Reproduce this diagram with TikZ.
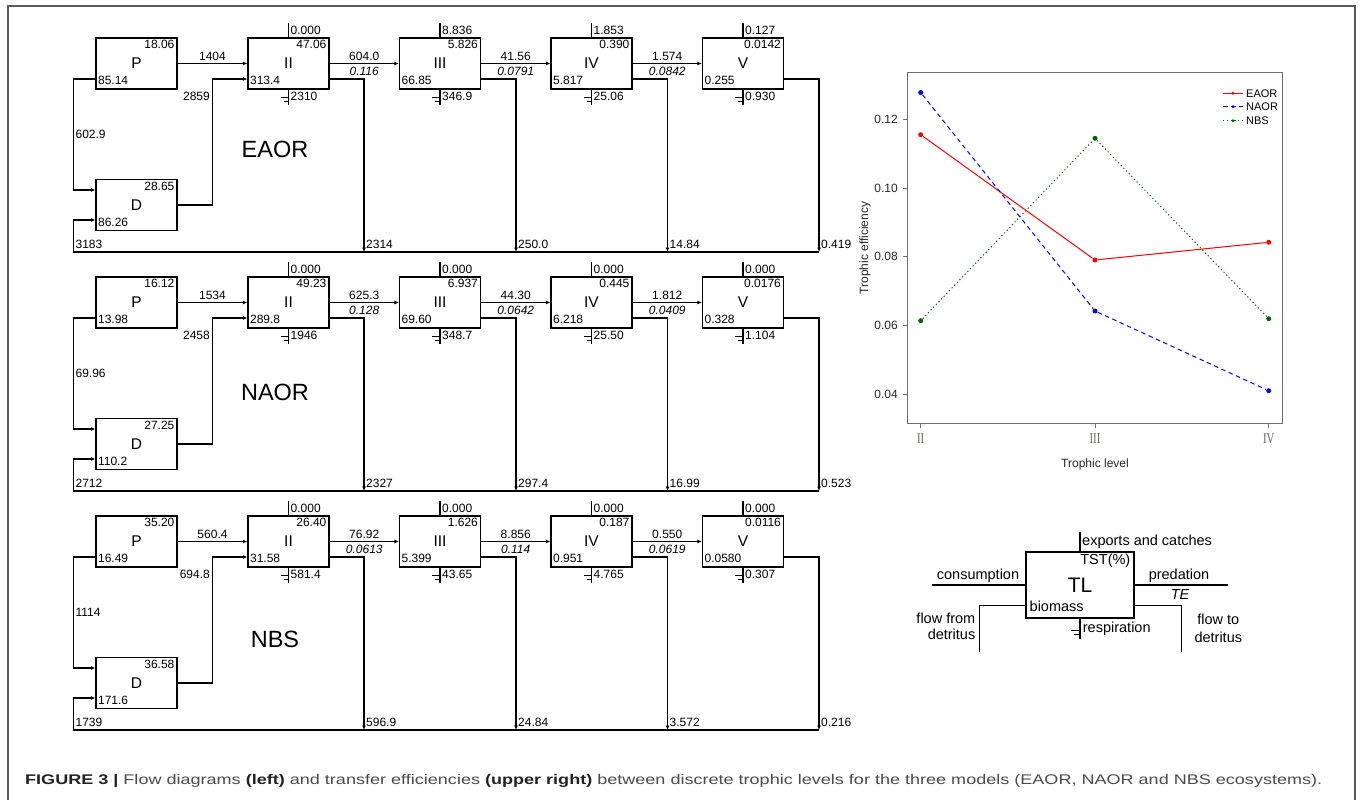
\documentclass[tikz,border=0pt]{standalone}
\usepackage{fontspec}
\setmainfont{Liberation Sans}
\newfontfamily\romanfont{Liberation Serif}
\usetikzlibrary{arrows.meta,calc}
\definecolor{framegray}{HTML}{5A5A5A}
\definecolor{plotgray}{HTML}{6E6E6E}
\definecolor{romgray}{HTML}{6A5E54}
\definecolor{capgray}{HTML}{4A4A4A}
\definecolor{capdark}{HTML}{222222}
\definecolor{nbsgreen}{HTML}{006400}

% source box (P, D): name, x, y, label, top-right, bottom-left
\newcommand\srcbox[6]{%
  \node[tlbox] (#1) at (#2,#3) {#4};
  \node[num,anchor=base east] (#1tr) at ($(#1.north east)+(-3,11.3)$) {#5};
  \node[num,anchor=base west] (#1bl) at ($(#1.south west)+(2.5,-4.7)$) {#6};
}
% trophic level box: name, x, y, label, export, top-right, bottom-left, respiration
\newcommand\tlev[8]{%
  \node[tlbox] (#1) at (#2,#3) {#4};
  \node[num,anchor=base east] (#1tr) at ($(#1.north east)+(-3,11.3)$) {#6};
  \node[num,anchor=base west] (#1bl) at ($(#1.south west)+(2.5,-4.7)$) {#7};
  \coordinate (#1top) at ($(#1.north)+(0,-14)$);
  \draw[link] (#1.north) -- (#1top);
  \node[num,anchor=base west] (#1ex) at ($(#1.north)+(2,-3)$) {#5};
  \coordinate (#1res) at ($(#1.south)+(0,15)$);
  \coordinate (#1ga) at ($(#1.south)+(-8,8)$);
  \coordinate (#1gb) at ($(#1.south)+(-5,11.5)$);
  \draw[link] (#1.south) -- (#1res);
  \draw[link] (#1ga) -- (#1ga -| #1res);
  \draw[link] (#1gb) -- (#1gb -| #1res);
  \node[num,anchor=base west] (#1rl) at ($(#1.south)+(2,11)$) {#8};
}
% predation flow: from, to, value, TE
\newcommand\pred[4]{%
  \coordinate (#1#2m) at ($(#1.east)!0.5!(#2.west)$);
  \draw[flow] (#1.east) -- (#2.west);
  \node[num,anchor=base] (#1#2v) at ($(#1#2m)+(0,-3.5)$) {#3};
  \node[tenum,anchor=base] (#1#2t) at ($(#1#2m)+(0,11.5)$) {#4};
}
% flow to detritus: from, drop x, bottom y, value, style
\newcommand\detr[5]{%
  \coordinate (#1out) at ($(#1.east)+(0,15.5)$);
  \coordinate (#1bot) at (#2,#3);
  \draw[#5,->] (#1out) -| (#1bot);
  \node[num,anchor=base west] (#1dl) at ($(#1bot)+(2,-3.7)$) {#4};
}
% source flows: prefix, P->II, P->D, D->II, detritus->D
\newcommand\srcflows[5]{%
  \coordinate (#1in) at ($(#12.west)+(0,15.5)$);
  \coordinate (#1mid) at ($(#1P.east)!0.5!(#12.west)$);
  \coordinate (#1kink) at (#1mid |- #1in);
  \coordinate (#1pl) at ($(#1P.west)+(0,15.5)$);
  \coordinate (#1L) at ($(#1pl)+(-22,0)$);
  \coordinate (#1dtop) at ($(#1D.west)+(0,-15)$);
  \coordinate (#1dbot) at ($(#1D.west)+(0,15)$);
  \coordinate (#1Lm) at ($(#1L)!0.5!(#1L |- #1dtop)$);
  \coordinate (#1corner) at (#1L |- #15bot);
  \draw[flow] (#1P.east) -- (#12.west);
  \node[num,anchor=base] (#1v1) at ($(#1mid)+(0,-3.5)$) {#2};
  \draw[link,->] (#1pl) -- (#1L) |- (#1dtop);
  \node[num,anchor=base west] (#1v2) at ($(#1Lm)+(2,4.3)$) {#3};
  \draw[link,->] (#1D.east) -| (#1kink) -- (#1in);
  \node[num,anchor=base east] (#1v3) at ($(#1kink)+(-2.5,21.3)$) {#4};
  \draw[link,->] (#15bot) -- (#1corner) |- (#1dbot);
  \node[num,anchor=base west] (#1v4) at ($(#1corner)+(2,-3.7)$) {#5};
}

\begin{document}
\begin{tikzpicture}[x=1pt,y=-1pt,
  >={Latex[length=4.5pt,width=4pt]},
  tlbox/.style={draw, line width=1.2pt, minimum width=81pt, minimum height=51pt,
    inner sep=0pt, font=\fontsize{15.5}{16}\selectfont},
  num/.style={inner sep=0pt, font=\fontsize{12}{13}\selectfont},
  tenum/.style={inner sep=0pt, font=\fontsize{12}{13}\selectfont\itshape},
  flow/.style={line width=1.7pt, ->},
  link/.style={line width=1.1pt},
  drop/.style={line width=1.7pt},
  title/.style={inner sep=0pt, font=\fontsize{23.5}{24}\selectfont},
  tick/.style={inner sep=0pt, font=\fontsize{12}{13}\selectfont, text=black!85},
  leg/.style={inner sep=0pt, font=\fontsize{11}{12}\selectfont},
  key/.style={inner sep=0pt, font=\fontsize{14.5}{15}\selectfont},
]
\useasboundingbox (0,0) rectangle (1362,800);
\coordinate (fa) at (8,800);
\coordinate (fb) at (8,6);
\coordinate (fc) at (1355,6);
\coordinate (fd) at (1355,800);
\draw[framegray, line width=1.3pt] (fa) -- (fb) -- (fc) -- (fd);

% ================= EAOR =================
\srcbox{EP}{136.5}{63.5}{P}{18.06}{85.14}
\srcbox{ED}{136.5}{205}{D}{28.65}{86.26}
\tlev{E2}{288.5}{63.5}{II}{0.000}{47.06}{313.4}{2310}
\tlev{E3}{440}{63.5}{III}{8.836}{5.826}{66.85}{346.9}
\tlev{E4}{591.5}{63.5}{IV}{1.853}{0.390}{5.817}{25.06}
\tlev{E5}{743}{63.5}{V}{0.127}{0.0142}{0.255}{0.930}
\pred{E2}{E3}{604.0}{0.116}
\pred{E3}{E4}{41.56}{0.0791}
\pred{E4}{E5}{1.574}{0.0842}
\detr{E2}{364}{252}{2314}{drop}
\detr{E3}{516}{252}{250.0}{drop}
\detr{E4}{667.5}{252}{14.84}{drop}
\detr{E5}{819}{252}{0.419}{link}
\srcflows{E}{1404}{602.9}{2859}{3183}
\node[title] (Etitle) at (275,149) {EAOR};

% ================= NAOR =================
\srcbox{NP}{136.5}{302.5}{P}{16.12}{13.98}
\srcbox{ND}{136.5}{444}{D}{27.25}{110.2}
\tlev{N2}{288.5}{302.5}{II}{0.000}{49.23}{289.8}{1946}
\tlev{N3}{440}{302.5}{III}{0.000}{6.937}{69.60}{348.7}
\tlev{N4}{591.5}{302.5}{IV}{0.000}{0.445}{6.218}{25.50}
\tlev{N5}{743}{302.5}{V}{0.000}{0.0176}{0.328}{1.104}
\pred{N2}{N3}{625.3}{0.128}
\pred{N3}{N4}{44.30}{0.0642}
\pred{N4}{N5}{1.812}{0.0409}
\detr{N2}{364}{491}{2327}{drop}
\detr{N3}{516}{491}{297.4}{drop}
\detr{N4}{667.5}{491}{16.99}{drop}
\detr{N5}{819}{491}{0.523}{link}
\srcflows{N}{1534}{69.96}{2458}{2712}
\node[title] (Ntitle) at (275,392) {NAOR};

% ================= NBS =================
\srcbox{BP}{136.5}{541.5}{P}{35.20}{16.49}
\srcbox{BD}{136.5}{683}{D}{36.58}{171.6}
\tlev{B2}{288.5}{541.5}{II}{0.000}{26.40}{31.58}{581.4}
\tlev{B3}{440}{541.5}{III}{0.000}{1.626}{5.399}{43.65}
\tlev{B4}{591.5}{541.5}{IV}{0.000}{0.187}{0.951}{4.765}
\tlev{B5}{743}{541.5}{V}{0.000}{0.0116}{0.0580}{0.307}
\pred{B2}{B3}{76.92}{0.0613}
\pred{B3}{B4}{8.856}{0.114}
\pred{B4}{B5}{0.550}{0.0619}
\detr{B2}{364}{730}{596.9}{drop}
\detr{B3}{516}{730}{24.84}{drop}
\detr{B4}{667.5}{730}{3.572}{drop}
\detr{B5}{819}{730}{0.216}{link}
\srcflows{B}{560.4}{1114}{694.8}{1739}
\node[title] (Btitle) at (275,639) {NBS};

% ================= plot =================
\draw[plotgray, line width=1pt] (907.3,72.7) rectangle (1282.3,423.3);
\foreach \v/\y [count=\i] in {0.12/119.3, 0.10/188, 0.08/256.7, 0.06/325.7, 0.04/394}{
  \draw[plotgray, line width=0.9pt] (903,\y) -- (907.3,\y);
  \node[tick, anchor=east] (yt\i) at (898,\y) {\v};
}
\foreach \x/\r [count=\i] in {920.7/II, 1095/III, 1268.7/IV}{
  \draw[plotgray, line width=0.9pt] (\x,423.3) -- (\x,428);
  \node[inner sep=0pt, text=romgray, font=\romanfont\fontsize{15}{16}\selectfont] (xt\i) at (\x,438.5) {\scalebox{0.72}[1]{\r}};
}
\node[tick, text=black!85] (xlab) at (1095,464) {Trophic level};
\node[tick, text=black!85, rotate=90] (ylab) at (865,248) {Trophic efficiency};

% series
\coordinate (e1) at (920.7,134.7); \coordinate (e2) at (1095,260); \coordinate (e3) at (1268.7,242.3);
\coordinate (n1) at (920.7,92.5);  \coordinate (n2) at (1095,311); \coordinate (n3) at (1268.7,390.7);
\coordinate (g1) at (920.7,320.7); \coordinate (g2) at (1095,138.3); \coordinate (g3) at (1268.7,318.7);
\begin{scope}[shorten <=3pt, shorten >=3pt]
\draw[red, line width=1pt] (e1) -- (e2);
\draw[red, line width=1pt] (e2) -- (e3);
\draw[blue, line width=1pt, dash pattern=on 4.5pt off 3.5pt] (n1) -- (n2);
\draw[blue, line width=1pt, dash pattern=on 4.5pt off 3.5pt] (n2) -- (n3);
\draw[nbsgreen, line width=1pt, dash pattern=on 1.2pt off 2.6pt] (g1) -- (g2);
\draw[nbsgreen, line width=1pt, dash pattern=on 1.2pt off 2.6pt] (g2) -- (g3);
\end{scope}
\foreach \p in {e1,e2,e3}{\fill[red] (\p) circle (2.5);}
\foreach \p in {n1,n2,n3}{\fill[blue] (\p) circle (2.5);}
\foreach \p in {g1,g2,g3}{\fill[nbsgreen] (\p) circle (2.5);}

% legend
\draw[red, line width=1pt] (1223,93.3) -- (1243,93.3);
\fill[red] (1233,93.3) circle (1.6);
\node[leg, anchor=west] (l1) at (1246,93.3) {EAOR};
\draw[blue, line width=1pt, dash pattern=on 4.5pt off 3.5pt] (1223,106.7) -- (1243,106.7);
\fill[blue] (1233,106.7) circle (1.6);
\node[leg, anchor=west] (l2) at (1246,106.7) {NAOR};
\draw[nbsgreen, line width=1pt, dash pattern=on 1.2pt off 2.6pt] (1223,120.7) -- (1243,120.7);
\fill[nbsgreen] (1233,120.7) circle (1.6);
\node[leg, anchor=west] (l3) at (1246,120.7) {NBS};

% ================= key =================
\node[draw, line width=1.3pt, minimum width=108pt, minimum height=66pt, inner sep=0pt,
  font=\fontsize{21}{22}\selectfont] (TL) at (1080,585) {TL};
\coordinate (ktop) at (1080,532);
\draw[link] (TL.north) -- (ktop);
\node[key, anchor=base west] (kexp) at (1082,545) {exports and catches};
\node[key, anchor=base east] (ktst) at (1130.5,564) {TST(\%)};
\coordinate (kcons) at (932,585);
\draw[link] (kcons) -- (TL.west);
\node[key, anchor=base] (kconsl) at (978,579) {consumption};
\coordinate (kpred) at (1228.3,585);
\draw[link] (TL.east) -- (kpred);
\node[key, anchor=base] (kpredl) at (1179,579) {predation};
\node[key, anchor=base, font=\fontsize{14.5}{15}\selectfont\itshape] (kte) at (1180,599) {TE};
\node[key, anchor=base west] (kbio) at (1029.5,611.7) {biomass};
\coordinate (kfin) at ($(TL.west)+(0,20.3)$);
\coordinate (kfinb) at (979.3,652);
\draw[link] (kfin) -| (kfinb);
\node[key, anchor=base east] (kff1) at (975.5,623.3) {flow from};
\node[key, anchor=base east] (kff2) at (975.5,639.3) {detritus};
\coordinate (kfout) at ($(TL.east)+(0,20.3)$);
\coordinate (kfoutb) at (1181.7,652);
\draw[link] (kfout) -| (kfoutb);
\node[key, anchor=base] (kft1) at (1218.3,624.3) {flow to};
\node[key, anchor=base] (kft2) at (1218.3,642.3) {detritus};
\coordinate (kres) at ($(TL.south)+(0,20)$);
\coordinate (kga) at ($(TL.south)+(-9,12)$);
\coordinate (kgb) at ($(TL.south)+(-6,16)$);
\draw[link] (TL.south) -- (kres);
\draw[link] (kga) -- (kga -| kres);
\draw[link] (kgb) -- (kgb -| kres);
\node[key, anchor=base west] (kresl) at (1082.7,632.7) {respiration};

% ================= caption =================
\node[anchor=base west, inner sep=0pt] (cap) at (25,784) {\resizebox{1297pt}{\height}{\fontsize{14}{16}\selectfont\color{capgray}\textcolor{capdark}{\textbf{FIGURE 3 |}} Flow diagrams \textcolor{capdark}{\textbf{(left)}} and transfer efficiencies \textcolor{capdark}{\textbf{(upper right)}} between discrete trophic levels for the three models (EAOR, NAOR and NBS ecosystems).}};
\end{tikzpicture}
\end{document}
